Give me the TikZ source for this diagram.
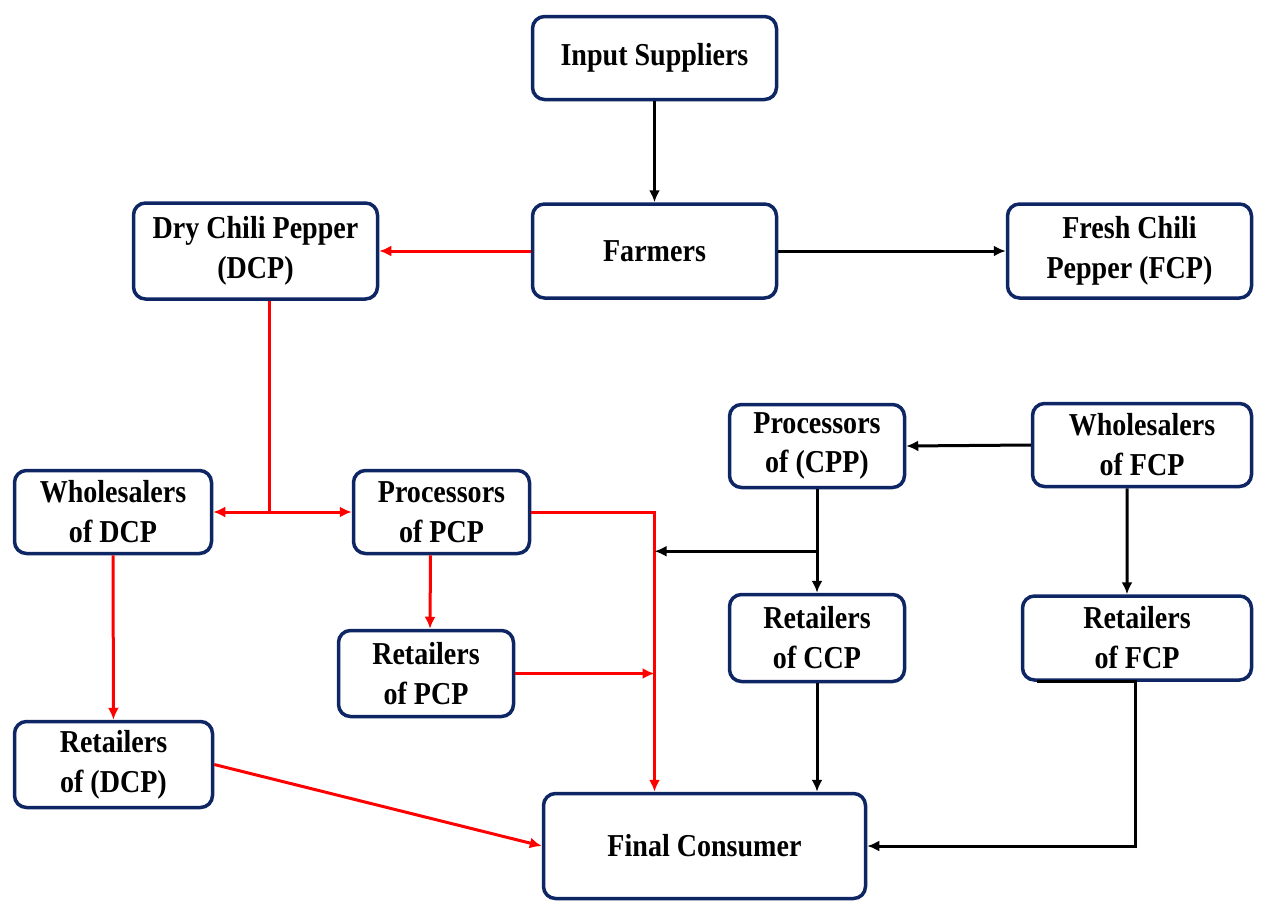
\documentclass[tikz,border=0pt]{standalone}
\usepackage{fontspec}
\newfontfamily\chartfont{Liberation Serif}[FakeStretch=0.88]
\usepackage{tikz}
\usetikzlibrary{arrows,arrows.meta,positioning,calc}
\definecolor{boxnavy}{RGB}{14,38,100}

\begin{document}
\begin{tikzpicture}[>={Latex[length=12bp,width=11bp]},
	box/.style={draw=boxnavy,line width=3.5bp,rounded corners=12bp,fill=white,align=center,inner sep=0pt,
		font=\chartfont\bfseries\fontsize{32}{40}\selectfont},
	redline/.style={draw=red,line width=3bp,->},
	blkline/.style={draw=black,line width=3bp,->}]
	\useasboundingbox (0bp,0bp) rectangle (1261bp,-901bp);

	\node[box,minimum width=244bp,minimum height=83bp] (IS)   at (654.5bp,-58bp)   {Input Suppliers};
	\node[box,minimum width=244bp,minimum height=94bp] (FA)   at (654.5bp,-251bp) {Farmers};
	\node[box,minimum width=244bp,minimum height=96bp] (DCP)  at (255.5bp,-251bp) {Dry Chili Pepper\\(DCP)};
	\node[box,minimum width=244bp,minimum height=94bp] (FCP)  at (1129.5bp,-251bp) {Fresh Chili\\Pepper (FCP)};
	\node[box,minimum width=175bp,minimum height=83bp] (PCPP) at (817bp,-446bp)    {Processors\\of (CPP)};
	\node[box,minimum width=219bp,minimum height=83bp] (WFCP) at (1142bp,-445bp)   {Wholesalers\\of FCP};
	\node[box,minimum width=197bp,minimum height=83bp] (WDCP) at (113bp,-512bp)    {Wholesalers\\of DCP};
	\node[box,minimum width=176bp,minimum height=83bp] (PPCP) at (441.5bp,-512bp)  {Processors\\of PCP};
	\node[box,minimum width=175bp,minimum height=86bp] (RPCP) at (426bp,-673.5bp)  {Retailers\\of PCP};
	\node[box,minimum width=175bp,minimum height=87bp] (RCCP) at (817bp,-638bp)    {Retailers\\of CCP};
	\node[box,minimum width=229bp,minimum height=84bp] (RFCP) at (1137bp,-638bp) {Retailers\\of FCP};
	\node[box,minimum width=198bp,minimum height=86bp] (RDCP) at (113.5bp,-764.5bp) {Retailers\\of (DCP)};
	\node[box,minimum width=322bp,minimum height=105bp] (FC)  at (704.5bp,-846bp)  {Final Consumer};

	% top part
	\draw[blkline] (IS) -- (FA);
	\draw[redline] (FA) -- (DCP);
	\draw[blkline] (FA) -- (FCP);

	% dry chili branch
	\coordinate (dtop) at ([xshift=14bp]DCP.south);
	\coordinate (dsplit) at (dtop |- WDCP.east);
	\draw[redline,-] (dtop) -- (dsplit);
	\draw[redline] (dsplit) -- (WDCP.east);
	\draw[redline] (dsplit) -- (PPCP.west);
	\draw[redline] (WDCP) -- (RDCP);
	\draw[redline] ([xshift=-11bp]PPCP.south) -- ([xshift=4bp]RPCP.north);

	\coordinate (mline) at ([xshift=-50bp]FC.north);
	\draw[redline] (PPCP.east) -| (mline);
	\draw[redline] (RPCP.east) -- (RPCP.east -| mline);
	\draw[redline] (RDCP.east) -- (FC.west);

	% fresh chili branch
	\draw[blkline] (WFCP.west) -- (PCPP.east);
	\draw[blkline] ([xshift=-15bp]WFCP.south) -- ([xshift=-10bp]RFCP.north);
	\draw[blkline] (PCPP.south) -- (RCCP.north);
	\coordinate (cppsplit) at ([yshift=-62bp]PCPP.south);
	\draw[blkline] (cppsplit) -- (cppsplit -| mline);
	\draw[blkline] (RCCP.south) -- (RCCP.south |- FC.north);
	\draw[blkline] ([xshift=-100bp]RFCP.south) -- ([xshift=-2bp]RFCP.south) |- (FC.east);
\end{tikzpicture}
\end{document}
